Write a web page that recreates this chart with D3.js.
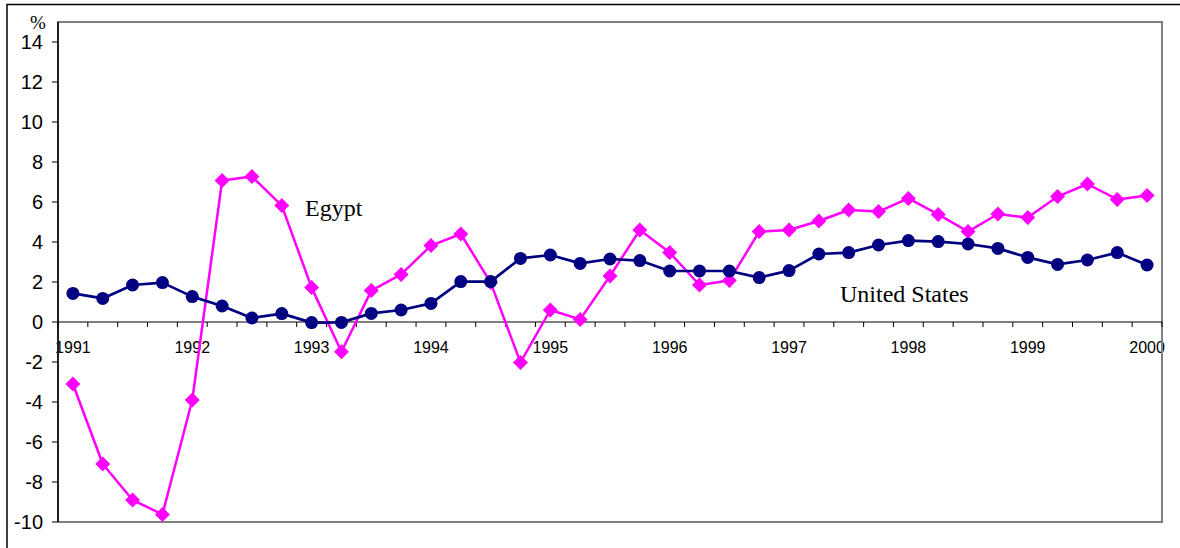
<!DOCTYPE html>
<html>
<head>
<meta charset="utf-8">
<script src="https://cdn.jsdelivr.net/npm/d3@7"></script>
<style>
  html, body { margin: 0; padding: 0; background: #fff; }
  svg { display: block; }
</style>
</head>
<body>
<svg id="chart" width="1180" height="548"></svg>
<script>
// Quarterly periods, 1991 Q1 to 2000 Q1
const quarters = [];
for (let yr = 1991; yr <= 2000; yr++) {
  for (let q = 1; q <= 4; q++) {
    if (yr === 2000 && q > 1) break;
    quarters.push(yr + "Q" + q);
  }
}

// Year labels shown under the first quarter of each year
const yearLabels = ["1991","1992","1993","1994","1995","1996","1997","1998","1999","2000"];

// Y axis tick values (%)
const yTicks = [-10, -8, -6, -4, -2, 0, 2, 4, 6, 8, 10, 12, 14];

// Growth rates, %
const egypt = [
  -3.1, -7.1, -8.9, -9.62, -3.9,
   7.07, 7.27, 5.82, 1.72, -1.49,
   1.57, 2.38, 3.82, 4.4, 1.97,
  -2.02, 0.6, 0.13, 2.3, 4.6,
   3.47, 1.85, 2.07, 4.52, 4.6,
   5.05, 5.6, 5.52, 6.18, 5.38,
   4.52, 5.4, 5.22, 6.27, 6.9,
   6.13, 6.32
];

const unitedStates = [
  1.43, 1.18, 1.85, 1.97, 1.27,
  0.8, 0.2, 0.42, -0.03, -0.02,
  0.43, 0.6, 0.93, 2.02, 2.02,
  3.18, 3.35, 2.93, 3.15, 3.07,
  2.55, 2.55, 2.55, 2.22, 2.57,
  3.4, 3.47, 3.85, 4.07, 4.02,
  3.9, 3.68, 3.23, 2.88, 3.1,
  3.47, 2.85
];

const svg = d3.select("#chart");

// outer frame lines
svg.append("path")
  .attr("d", "M7,548 V4.5 H1180")
  .attr("fill", "none")
  .attr("stroke", "#000")
  .attr("stroke-width", 1.5);

const plot = { left: 58, right: 1162, top: 22, bottom: 522 };

const x = d3.scaleBand()
  .domain(quarters)
  .range([plot.left, plot.right])
  .paddingInner(0)
  .paddingOuter(0);

const y = d3.scaleLinear()
  .domain([-10, 15])
  .range([plot.bottom, plot.top]);

const cx = d => x(d) + x.bandwidth() / 2;

// Y axis labels and ticks
const yAxis = svg.append("g");
yAxis.selectAll("line.tick")
  .data(yTicks)
  .join("line")
  .attr("class", "tick")
  .attr("x1", plot.left - 6)
  .attr("x2", plot.left)
  .attr("y1", d => y(d))
  .attr("y2", d => y(d))
  .attr("stroke", "#000")
  .attr("stroke-width", 1);

yAxis.selectAll("text")
  .data(yTicks)
  .join("text")
  .attr("x", 43)
  .attr("y", d => y(d))
  .attr("dy", "0.36em")
  .attr("text-anchor", "end")
  .attr("font-family", "Liberation Sans, Arial, sans-serif")
  .attr("font-size", 20)
  .attr("fill", "#000")
  .text(d => d);

// unit label
svg.append("text")
  .attr("x", 38)
  .attr("y", 29)
  .attr("text-anchor", "middle")
  .attr("font-family", "Liberation Serif, Times New Roman, serif")
  .attr("font-size", 19)
  .attr("fill", "#000")
  .text("%");

// X category labels (year at first quarter)
svg.append("g")
  .selectAll("text")
  .data(yearLabels)
  .join("text")
  .attr("x", d => cx(d + "Q1"))
  .attr("y", 353)
  .attr("text-anchor", "middle")
  .attr("font-family", "Liberation Sans, Arial, sans-serif")
  .attr("font-size", 16)
  .attr("fill", "#000")
  .text(d => d);

// plot border (grey)
svg.append("rect")
  .attr("x", plot.left)
  .attr("y", plot.top)
  .attr("width", plot.right - plot.left)
  .attr("height", plot.bottom - plot.top)
  .attr("fill", "none")
  .attr("stroke", "#808080")
  .attr("stroke-width", 2);

// category axis along zero
const zeroY = y(0);
const xAxis = svg.append("g");
xAxis.append("line")
  .attr("x1", plot.left)
  .attr("x2", plot.right)
  .attr("y1", zeroY)
  .attr("y2", zeroY)
  .attr("stroke", "#000")
  .attr("stroke-width", 1);

const boundaries = quarters.map(q => x(q)).concat([x.range()[1]]);
xAxis.selectAll("line.tick")
  .data(boundaries)
  .join("line")
  .attr("class", "tick")
  .attr("x1", d => d)
  .attr("x2", d => d)
  .attr("y1", zeroY)
  .attr("y2", zeroY + 5)
  .attr("stroke", "#000")
  .attr("stroke-width", 1);

// value axis line
svg.append("line")
  .attr("x1", plot.left)
  .attr("x2", plot.left)
  .attr("y1", plot.top)
  .attr("y2", plot.bottom)
  .attr("stroke", "#000")
  .attr("stroke-width", 1.5);

const line = d3.line()
  .x((d, i) => cx(quarters[i]))
  .y(d => y(d));

// diamond marker with a given half-diagonal
const diamond = {
  draw(context, size) {
    const r = Math.sqrt(size);
    context.moveTo(0, -r);
    context.lineTo(r, 0);
    context.lineTo(0, r);
    context.lineTo(-r, 0);
    context.closePath();
  }
};

// Egypt series
svg.append("path")
  .datum(egypt)
  .attr("d", line)
  .attr("fill", "none")
  .attr("stroke", "#FF00FF")
  .attr("stroke-width", 2.5)
  .attr("stroke-linejoin", "round");

svg.append("g")
  .selectAll("path")
  .data(egypt)
  .join("path")
  .attr("d", d3.symbol().type(diamond).size(56))
  .attr("transform", (d, i) => `translate(${cx(quarters[i])},${y(d)})`)
  .attr("fill", "#FF00FF");

// United States series
svg.append("path")
  .datum(unitedStates)
  .attr("d", line)
  .attr("fill", "none")
  .attr("stroke", "#000080")
  .attr("stroke-width", 2.7)
  .attr("stroke-linejoin", "round");

svg.append("g")
  .selectAll("circle")
  .data(unitedStates)
  .join("circle")
  .attr("cx", (d, i) => cx(quarters[i]))
  .attr("cy", d => y(d))
  .attr("r", 6.5)
  .attr("fill", "#000080");

// series labels
svg.append("text")
  .attr("x", 305)
  .attr("y", 216)
  .attr("font-family", "Liberation Serif, Times New Roman, serif")
  .attr("font-size", 24)
  .attr("fill", "#000")
  .text("Egypt");

svg.append("text")
  .attr("x", 840)
  .attr("y", 302)
  .attr("font-family", "Liberation Serif, Times New Roman, serif")
  .attr("font-size", 24)
  .attr("fill", "#000")
  .text("United States");
</script>
</body>
</html>
